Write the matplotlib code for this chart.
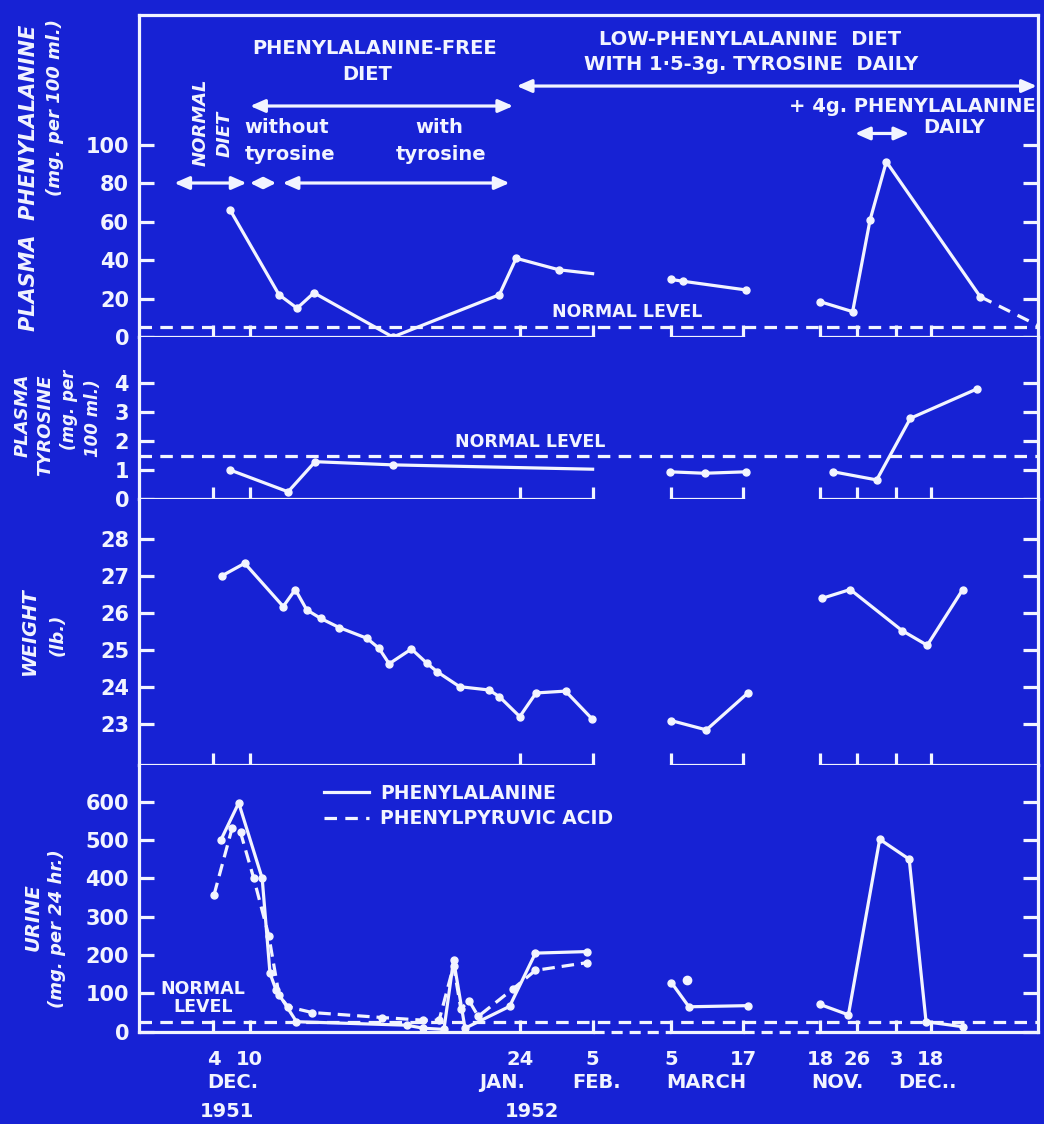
import matplotlib
matplotlib.use('Agg')
import matplotlib.pyplot as plt
from matplotlib.lines import Line2D

plt.rcParams['font.family'] = ['DejaVu Sans']
plt.rcParams['font.weight'] = 'bold'
plt.rcParams['lines.scale_dashes'] = False

BG = '#1722d4'
FG = '#f2f4ff'
LW = 2.3

# ---------------- x axis (broken time axis; units = chart days, 4 Dec 1951 = 0)
XLIM = (-12.4, 137.0)
tick_pos = [0, 6, 51, 63, 76, 88, 100.8, 107, 113.4, 119.2]
tick_lab = ['4', '10', '24', '5', '5', '17', '18', '26', '3', '18']
segments = [(-12.4, 63), (76, 88), (100.8, 137.0)]
gaps = [(63, 76), (88, 100.8)]
month_labels = ['DEC.', 'JAN.', 'FEB.', 'MARCH', 'NOV.', 'DEC..']
month_pos = [3.3, 47.9, 63.6, 81.9, 103.6, 118.6]
year_labels = ['1951', '1952']
year_pos = [2.3, 52.9]

# ---------------- plasma phenylalanine (mg per 100 ml)
phe_x1 = [2.8, 10.9, 13.9, 16.7, 29.8, 47.5, 50.3, 57.4, 63.0]
phe_y1 = [66, 22, 15, 23, 0, 22, 41, 35, 33]
phe_x2 = [76.0, 78.1, 88.5]
phe_y2 = [30, 29, 24.5]
phe_x3 = [100.8, 106.2, 109.1, 111.8, 127.4]
phe_y3 = [18.4, 13.2, 61, 91.3, 21]
phe_tail_x = [127.4, 137.0]
phe_tail_y = [21, 6]
phe_normal = 5

# ---------------- plasma tyrosine (mg per 100 ml)
tyr_x1 = [2.8, 12.4, 16.9, 29.8, 63.0]
tyr_y1 = [1.0, 0.25, 1.29, 1.18, 1.03]
tyr_x2 = [75.8, 81.6, 88.5]
tyr_y2 = [0.94, 0.89, 0.94]
tyr_x3 = [103.0, 110.2, 115.8, 126.8]
tyr_y3 = [0.94, 0.66, 2.79, 3.8]
tyr_normal = 1.49

# ---------------- weight (lb)
w_x1 = [1.4, 5.2, 11.6, 13.6, 15.5, 17.8, 20.9, 25.5, 27.5, 29.2, 32.9, 35.5,
        37.2, 40.9, 45.8, 47.5, 50.9, 53.6, 58.5, 62.9]
w_y1 = [27.01, 27.35, 26.18, 26.64, 26.09, 25.86, 25.61, 25.32, 25.05, 24.63,
        25.03, 24.64, 24.41, 24.01, 23.92, 23.74, 23.2, 23.84, 23.89, 23.14]
w_x2 = [76.1, 81.9, 88.8]
w_y2 = [23.09, 22.84, 23.84]
w_x3 = [101.1, 105.8, 114.4, 118.6, 124.5]
w_y3 = [26.4, 26.64, 25.53, 25.13, 26.64]

# ---------------- urine (mg per 24 hr)
up_x1 = [1.2, 4.2, 8.1, 9.4, 10.4, 13.8, 32.1, 34.9, 38.3, 39.9, 41.8, 49.2, 53.5, 62.0]
up_y1 = [499, 597, 400, 152, 109, 26, 17, 9, 6, 187, 9, 66, 205, 209]
ua_x1 = [0.1, 3.1, 4.5, 6.7, 9.2, 10.9, 12.4, 16.4, 28.0, 34.9, 37.5, 39.9, 41.1,
         42.5, 44.0, 49.8, 53.5, 62.0]
ua_y1 = [357, 531, 520, 400, 250, 95, 65, 50, 37, 30, 30, 172, 60, 80, 40, 112, 160, 180]
up_x2 = [76.1, 79.0, 88.8]
up_y2 = [128, 65, 68]
ua_x2 = [78.7]
ua_y2 = [134]
up_x3 = [100.8, 105.5, 110.7, 115.6, 118.4, 124.5]
up_y3 = [71, 44, 502, 450, 26, 13]
urine_normal = 26

W, H = 1044, 1124
fig = plt.figure(figsize=(W / 100, H / 100), dpi=100, facecolor=BG)

left_px, right_px = 138.8, 1038
bounds = [(15, 337), (337, 499), (499, 765), (765, 1031.7)]
axes = []
for top, bot in bounds:
    ax = fig.add_axes([left_px / W, 1 - bot / H, (right_px - left_px) / W, (bot - top) / H])
    ax.set_facecolor(BG)
    axes.append(ax)
ax1, ax2, ax3, ax4 = axes

ylims = [(0, 167.7), (0, 5.6), (21.89, 29.09), (0, 695.8)]
yticks = [range(0, 101, 20), range(0, 5), range(23, 29), range(0, 601, 100)]

for i, ax in enumerate(axes):
    ax.set_xlim(*XLIM)
    ax.set_ylim(*ylims[i])
    ax.set_yticks(list(yticks[i]))
    for s in ['left', 'right', 'top', 'bottom']:
        ax.spines[s].set_color(FG)
        ax.spines[s].set_linewidth(LW)
    ax.spines['bottom'].set_visible(False)
    if i > 0:
        ax.spines['top'].set_visible(False)
    ax.tick_params(axis='y', which='both', left=True, right=True, direction='in',
                   length=11, width=LW, colors=FG, labelsize=15, pad=7)
    ax.set_xticks(tick_pos)
    ax.tick_params(axis='x', direction='in', length=9, width=LW, colors=FG,
                   bottom=True, top=False, labelbottom=(i == 3), labelsize=14, pad=13)
    # segmented baseline
    tr = ax.get_xaxis_transform()
    for a, b in segments:
        ax.plot([a, b], [0, 0], transform=tr, color=FG, lw=LW, clip_on=False,
                solid_capstyle='projecting', zorder=3)
ax4.set_xticklabels(tick_lab)
for lab in ax4.get_xticklabels():
    lab.set_color(FG)

tr4 = ax4.get_xaxis_transform()
for a, b in gaps:
    ax4.plot([a, b], [0, 0], transform=tr4, color=FG, lw=LW, clip_on=False,
             dashes=(8, 5), zorder=3)
for lab, x in zip(month_labels, month_pos):
    ax4.text(x, -0.19, lab, transform=tr4, ha='center', va='center', color=FG, fontsize=14)
for lab, x in zip(year_labels, year_pos):
    ax4.text(x, -0.30, lab, transform=tr4, ha='center', va='center', color=FG, fontsize=14)

lkw = dict(color=FG, lw=LW, marker='o', ms=5, zorder=4, clip_on=False)
dash_kw = dict(color=FG, lw=LW, dashes=(9, 6), zorder=2)

# ---- panel 1
ax1.axhline(phe_normal, **dash_kw)
ax1.plot(phe_x1, phe_y1, markevery=list(range(len(phe_x1) - 1)), **lkw)
ax1.plot(phe_x2, phe_y2, **lkw)
ax1.plot(phe_x3, phe_y3, **lkw)
ax1.plot(phe_tail_x, phe_tail_y, color=FG, lw=LW, dashes=(9, 6), zorder=4)
ax1.text(68.8, 13, 'NORMAL LEVEL', color=FG, fontsize=12.5, ha='center', va='center')

akw = dict(arrowstyle='<|-|>,head_length=0.8,head_width=0.35', color=FG, lw=LW,
           shrinkA=0, shrinkB=0, mutation_scale=11)
ax1.annotate('', xy=(49.8, 120.3), xytext=(6.1, 120.3), arrowprops=akw)
ax1.annotate('', xy=(136.8, 130.7), xytext=(50.4, 130.7), arrowprops=akw)
ax1.annotate('', xy=(5.5, 80.2), xytext=(-6.5, 80.2), arrowprops=akw)
ax1.annotate('', xy=(10.4, 80.2), xytext=(6.1, 80.2),
             arrowprops=dict(akw, arrowstyle='<|-|>,head_length=0.6,head_width=0.3'))
ax1.annotate('', xy=(49.2, 80.2), xytext=(11.5, 80.2), arrowprops=akw)
ax1.annotate('', xy=(115.6, 106), xytext=(106.6, 106), arrowprops=akw)

tkw = dict(color=FG, ha='center', va='center', fontsize=14)
ax1.text(26.8, 150.5, 'PHENYLALANINE-FREE', **tkw)
ax1.text(25.5, 136.5, 'DIET', **tkw)
ax1.text(-2.2, 112, 'NORMAL', rotation=90, style='italic', color=FG, fontsize=13,
         ha='center', va='center')
ax1.text(1.8, 106, 'DIET', rotation=90, style='italic', color=FG, fontsize=13,
         ha='center', va='center')
ax1.text(5.2, 108.9, 'without', color=FG, fontsize=14, ha='left', va='center')
ax1.text(5.2, 94.8, 'tyrosine', color=FG, fontsize=14, ha='left', va='center')
ax1.text(37.5, 108.9, 'with', **tkw)
ax1.text(37.8, 94.8, 'tyrosine', **tkw)
ax1.text(89.2, 154.7, 'LOW-PHENYLALANINE  DIET', **tkw)
ax1.text(89.3, 141.7, 'WITH 1·5-3g. TYROSINE  DAILY', **tkw)
ax1.text(116.1, 119.8, '+ 4g. PHENYLALANINE', **tkw)
ax1.text(123.0, 108.9, 'DAILY', **tkw)

# ---- panel 2
ax2.axhline(tyr_normal, **dash_kw)
ax2.plot(tyr_x1, tyr_y1, markevery=list(range(len(tyr_x1) - 1)), **lkw)
ax2.plot(tyr_x2, tyr_y2, **lkw)
ax2.plot(tyr_x3, tyr_y3, **lkw)
ax2.text(52.7, 1.98, 'NORMAL LEVEL', color=FG, fontsize=12.5, ha='center', va='center')

# ---- panel 3
ax3.plot(w_x1, w_y1, **lkw)
ax3.plot(w_x2, w_y2, **lkw)
ax3.plot(w_x3, w_y3, **lkw)

# ---- panel 4
ax4.axhline(urine_normal, **dash_kw)
ax4.plot(up_x1, up_y1, **lkw)
ax4.plot(up_x2, up_y2, **lkw)
ax4.plot(up_x3, up_y3, **lkw)
ax4.plot(ua_x1, ua_y1, color=FG, lw=LW, dashes=(9, 5), marker='o', ms=5, zorder=4)
ax4.plot(ua_x2, ua_y2, color=FG, lw=0, marker='o', ms=6, zorder=4)
ax4.text(-1.7, 88, 'NORMAL\nLEVEL', color=FG, fontsize=12.5, ha='center', va='center',
         linespacing=1.0)
handles = [Line2D([], [], color=FG, lw=LW),
           Line2D([], [], color=FG, lw=LW, dashes=(9, 6))]
ax4.legend(handles, ['PHENYLALANINE', 'PHENYLPYRUVIC ACID'], loc='upper left',
           bbox_to_anchor=(0.2056, 0.93), frameon=False, fontsize=13.5,
           handlelength=2.4, handletextpad=0.6, labelspacing=0.35, borderpad=0,
           borderaxespad=0, labelcolor=FG)

# ---- y labels
def ylab(xpx, ypx, s, size):
    fig.text(xpx / W, 1 - ypx / H, s, rotation=90, style='italic', color=FG,
             fontsize=size, ha='center', va='center')

ylab(29, 178, 'PLASMA  PHENYLALANINE', 15)
ylab(55, 108, '(mg. per 100 ml.)', 13)
ylab(23, 415, 'PLASMA', 13)
ylab(45, 425, 'TYROSINE', 13)
ylab(69, 410, '(mg. per', 12)
ylab(93, 418, '100 ml.)', 12)
ylab(29, 631, 'WEIGHT', 14)
ylab(58, 635, '(lb.)', 13)
ylab(33, 917, 'URINE', 14)
ylab(57, 929, '(mg. per 24 hr.)', 13)

fig.savefig('out.png', dpi=100, facecolor=BG)
